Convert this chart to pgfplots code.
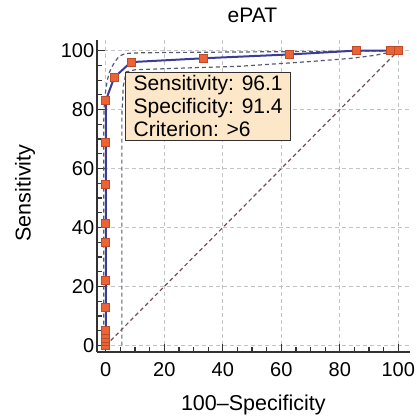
\documentclass[border=0pt]{standalone}
\usepackage{pgfplots}
\pgfplotsset{compat=1.18}
\usepackage{fontspec}
\setmainfont{Liberation Sans}
\definecolor{curvecol}{RGB}{60,60,150}
\definecolor{markfill}{RGB}{235,100,55}
\definecolor{markdraw}{RGB}{190,75,40}
\definecolor{cicol}{RGB}{85,90,115}
\definecolor{diagcol}{RGB}{115,80,85}
\definecolor{gridcol}{RGB}{195,195,195}
\definecolor{axcol}{RGB}{50,50,50}
\definecolor{boxfill}{RGB}{252,232,200}
\begin{document}
\begin{tikzpicture}
\useasboundingbox (-96.7pt,-66.3pt) rectangle (320.3pt,351.7pt);
\begin{axis}[
  at={(0,0)}, anchor=south west,
  scale only axis, width=313.3pt, height=311.7pt,
  xmin=-3.1, xmax=104, ymin=-2.1, ymax=103.6,
  axis x line*=bottom, axis y line*=left,
  axis line style={axcol, line width=2.2pt, -},
  xtick={0,20,40,60,80,100}, ytick={0,20,40,60,80,100},
  minor tick num=3,
  tick align=inside,
  major tick length=8pt, minor tick length=5pt,
  every tick/.style={axcol, line width=1.2pt},
  grid=major,
  major grid style={gridcol, dash pattern=on 4pt off 3pt, line width=1.2pt},
  tick label style={font=\fontsize{20}{23}\selectfont},
  /pgf/number format/assume math mode=true,
  xticklabel style={yshift=-7pt},
  yticklabel style={xshift=1pt},
  xlabel={100--Specificity},
  ylabel={Sensitivity},
  title={ePAT},
  label style={font=\fontsize{21.5}{24}\selectfont},
  xlabel style={at={(axis description cs:0.5,-0.171)}, anchor=center},
  ylabel style={at={(axis description cs:-0.229,0.509)}, anchor=center},
  title style={at={(axis description cs:0.497,1.059)}, anchor=center, font=\fontsize{21}{24}\selectfont},
  clip=false,
]
% chance line
\addplot[diagcol, line width=1.2pt, dash pattern=on 4pt off 3pt] coordinates {(0,0) (100,100)};
% upper CI
\addplot[cicol, line width=1.2pt, dash pattern=on 4pt off 3pt, smooth, tension=0.4] coordinates {
(-0.7,0) (-0.7,60) (-0.6,80) (0.2,88) (1.2,92.5) (2.7,95.5) (5,98.3) (10,99.2) (40,99.5) (100,99.9)};
% lower CI
\addplot[cicol, line width=1.2pt, dash pattern=on 4pt off 3pt] coordinates {
(5.5,0) (5.5,78) (6,88) (7,92.8) (10,93.5) (30,94.2) (46,94.7) (70,96.3) (84,97.4) (92,98.4) (100,100)};
% ROC curve
\addplot[curvecol, line width=2pt, mark=square*, mark size=4pt,
  mark options={fill=markfill, draw=markdraw, line width=0.6pt}] coordinates {
(0,0) (0,1.3) (0,2.6) (0,3.9) (0,5.2) (0,13.0) (0,22.1) (0,35.1) (0,41.6) (0,54.5) (0,68.8) (0,83.1)
(2.9,90.9) (8.6,96.1) (33.3,97.4) (62.9,98.7) (85.7,100) (97.1,100) (100,100)};
\node[draw=axcol, line width=1.2pt, fill=boxfill, anchor=north west, inner xsep=8pt, inner ysep=3pt,
  align=left, font=\fontsize{21}{23}\selectfont] at (axis cs:6.6,92.7)
  {Sensitivity: 96.1\\Specificity: 91.4\\Criterion: >6};
\end{axis}
\end{tikzpicture}
\end{document}
